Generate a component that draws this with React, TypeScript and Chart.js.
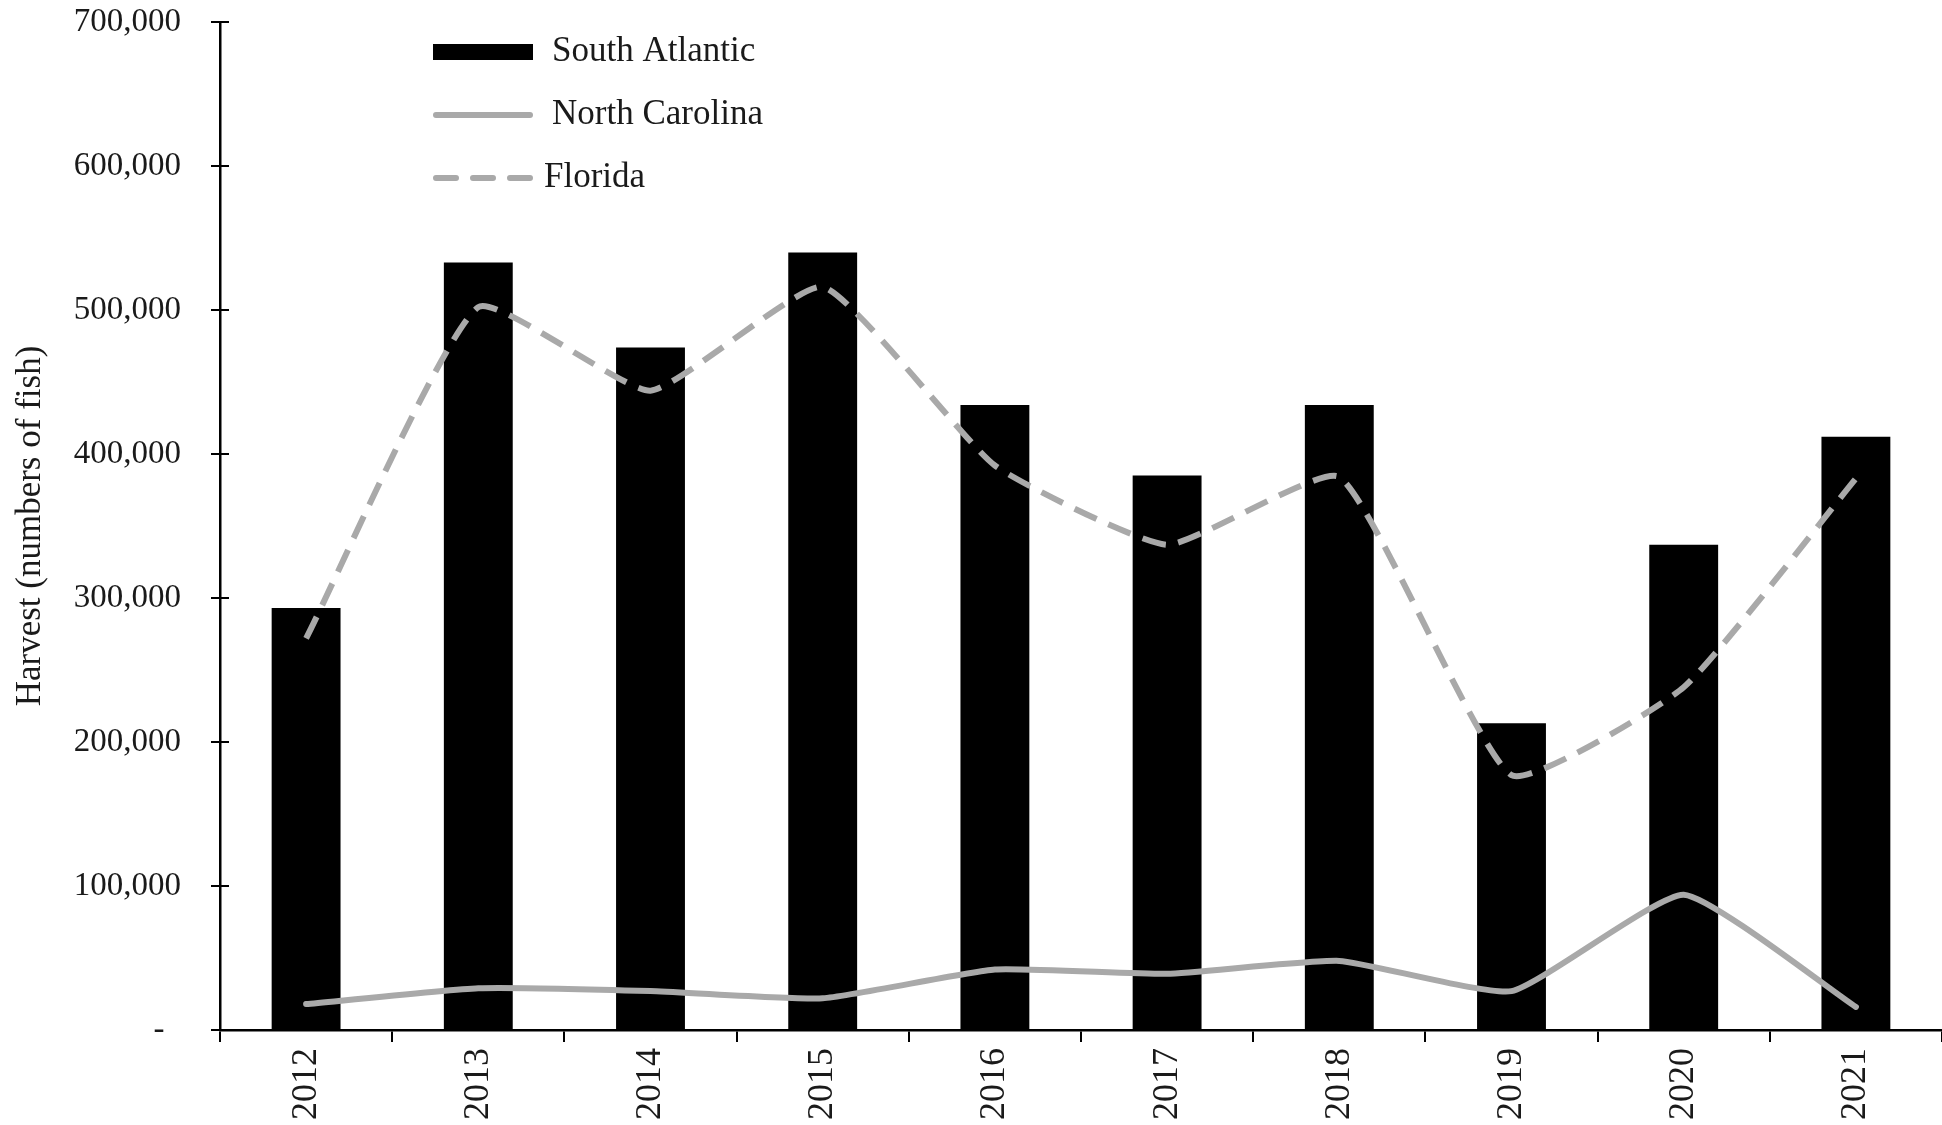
import React, { useEffect, useRef } from "react";
import { Chart, registerables } from "chart.js";

Chart.register(...registerables);

const years = ["2012", "2013", "2014", "2015", "2016", "2017", "2018", "2019", "2020", "2021"];
const southAtlantic = [293000, 533000, 474000, 540000, 434000, 385000, 434000, 213000, 337000, 412000];
const northCarolina = [18000, 29000, 27000, 22000, 42000, 39000, 48000, 27000, 94000, 16000];
const florida = [272000, 502000, 444000, 516000, 392000, 337000, 384000, 177000, 238000, 383000];
const yTicks = [0, 100000, 200000, 300000, 400000, 500000, 600000, 700000];

const FONT = "'Liberation Serif', 'Times New Roman', serif";
const GRAY = "#a9a9a9";

const legendPlugin = {
  id: "customLegend",
  afterDraw(chart: any) {
    const ctx = chart.ctx;
    const area = chart.chartArea;
    const ys = chart.scales.y;
    // inner half of y tick marks
    ctx.save();
    ctx.strokeStyle = "#000";
    ctx.lineWidth = 2;
    ys.ticks.forEach((t: any) => {
      const py = ys.getPixelForValue(t.value);
      ctx.beginPath();
      ctx.moveTo(area.left, py);
      ctx.lineTo(area.left + 9, py);
      ctx.stroke();
    });
    const x0 = area.left + 213;
    const w = 100;
    const textX = x0 + 119;
    const rows = [area.top + 30, area.top + 93, area.top + 156];
    const ds = chart.data.datasets;
    ctx.font = `35px ${FONT}`;
    ctx.textBaseline = "middle";
    ctx.textAlign = "left";
    // bar
    ctx.fillStyle = "#000";
    ctx.fillRect(x0, rows[0] - 8, w, 16);
    ctx.fillStyle = "#1a1a1a";
    ctx.fillText(ds[0].label, textX, rows[0]);
    // NC
    ctx.strokeStyle = GRAY;
    ctx.lineWidth = 6;
    ctx.lineCap = "round";
    ctx.beginPath();
    ctx.moveTo(x0 + 3, rows[1]);
    ctx.lineTo(x0 + w - 3, rows[1]);
    ctx.stroke();
    ctx.fillText(ds[1].label, textX, rows[1]);
    // FL
    ctx.setLineDash([20, 17]);
    ctx.beginPath();
    ctx.moveTo(x0 + 3, rows[2]);
    ctx.lineTo(x0 + w - 3, rows[2]);
    ctx.stroke();
    ctx.setLineDash([]);
    ctx.fillText(ds[2].label, textX - 8, rows[2]);
    ctx.restore();
  },
};

export default function App() {
  const ref = useRef<HTMLCanvasElement>(null);
  useEffect(() => {
    const chart = new Chart(ref.current!, {
      type: "bar",
      data: {
        labels: years,
        datasets: [
          {
            type: "bar",
            label: "South Atlantic",
            data: southAtlantic,
            backgroundColor: "#000",
            barPercentage: 0.4,
            categoryPercentage: 1,
            order: 3,
          },
          {
            type: "line",
            label: "North Carolina",
            data: northCarolina,
            borderColor: GRAY,
            borderWidth: 6,
            pointRadius: 0,
            tension: 0.15,
            borderCapStyle: "round",
            order: 1,
          },
          {
            type: "line",
            label: "Florida",
            data: florida,
            borderColor: GRAY,
            borderWidth: 6,
            borderDash: [24, 13],
            pointRadius: 0,
            tension: 0.15,
            order: 2,
          },
        ],
      } as any,
      options: {
        animation: false,
        responsive: true,
        maintainAspectRatio: false,
        layout: { padding: { top: 22, left: 0, right: 0, bottom: 0 } },
        plugins: { legend: { display: false }, tooltip: { enabled: false } },
        scales: {
          x: {
            offset: true,
            grid: { display: true, drawOnChartArea: false, drawTicks: true, tickLength: 12, color: "#000", lineWidth: 2, offset: true },
            border: { color: "#000", width: 2.5 },
            ticks: { minRotation: 90, maxRotation: 90, padding: 6, color: "#1a1a1a", font: { family: FONT, size: 36 } },
            afterFit: (s: any) => {
              s.height = 95;
              s.paddingLeft = 0;
              s.paddingRight = 0;
            },
          },
          y: {
            min: 0,
            max: 700000,
            afterBuildTicks: (s: any) => { s.ticks = yTicks.map((v) => ({ value: v })); },
            grid: { display: true, drawOnChartArea: false, drawTicks: true, tickLength: 9, color: "#000", lineWidth: 2 },
            border: { color: "#000", width: 2.5 },
            ticks: {
              padding: 30,
              color: "#1a1a1a",
              font: { family: FONT, size: 33 },
              callback: (v: any) => (Number(v) === 0 ? "-  " : Number(v).toLocaleString("en-US")),
            },
            title: {
              display: true,
              text: "Harvest (numbers of fish)",
              color: "#1a1a1a",
              font: { family: FONT, size: 35 },
              padding: { top: 10, bottom: 0 },
            },
            afterFit: (s: any) => {
              s.width = 220;
              s.paddingTop = 0;
              s.paddingBottom = 0;
            },
          },
        },
      } as any,
      plugins: [legendPlugin],
    });
    return () => chart.destroy();
  }, []);
  return (
    <div style={{ position: "fixed", left: 0, top: 0, width: 1942, height: 1125, background: "#fff" }}>
      <canvas ref={ref} />
    </div>
  );
}
